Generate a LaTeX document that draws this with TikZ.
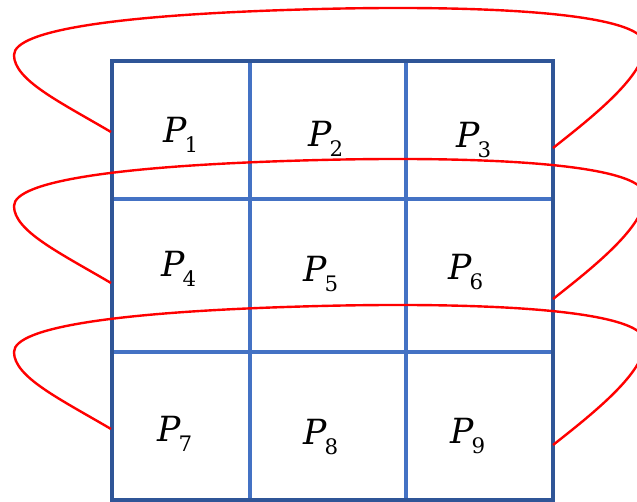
\documentclass[tikz,border=0pt]{standalone}
\usepackage{fontspec}
\newfontfamily\labfont{DejaVu Serif}
\definecolor{darkblue}{HTML}{2F5597}
\definecolor{midblue}{HTML}{4472C4}
\newcommand{\plab}[1]{{\labfont\fontsize{26}{28}\selectfont\itshape P}\kern-1.5pt\raisebox{-7pt}{\labfont\fontsize{16}{18}\selectfont #1}}
\begin{document}
\begin{tikzpicture}[x=0.75pt,y=-0.75pt,
  outer/.style={draw=darkblue,line width=3pt},
  inner/.style={draw=midblue,line width=2.4pt},
  loopline/.style={draw=red,line width=1.8pt},
  lbl/.style={inner sep=0pt,anchor=base west}]
\useasboundingbox (0,0) rectangle (637,502);
\clip (0,0) rectangle (637,502);
% grid
\draw[inner] (250,61) -- (250,500);
\draw[inner] (406,61) -- (406,500);
\draw[inner] (112,199) -- (553,199);
\draw[inner] (112,352) -- (553,352);
\draw[outer] (112,61) rectangle (553,500);
% labels
\node[lbl] (p1) at (163,143) {\plab{1}};
\node[lbl] (p2) at (308,147) {\plab{2}};
\node[lbl] (p3) at (456,148) {\plab{3}};
\node[lbl] (p4) at (161,277) {\plab{4}};
\node[lbl] (p5) at (303,282) {\plab{5}};
\node[lbl] (p6) at (448,280) {\plab{6}};
\node[lbl] (p7) at (157,442) {\plab{7}};
\node[lbl] (p8) at (303,445) {\plab{8}};
\node[lbl] (p9) at (450,444) {\plab{9}};
% red loops
\foreach \i/\dy in {1/0,2/151,3/297}{
  \coordinate (L\i) at (111,{132+\dy});
  \coordinate (R\i) at (553,{148+\dy});
  \draw[loopline] (L\i) .. controls (60,{102+\dy}) and (14,{80+\dy}) .. (14,{55+\dy})
    .. controls (14,{30+\dy}) and (120,{14+\dy}) .. (320,{9+\dy})
    .. controls (480,{5+\dy}) and (645,{12+\dy}) .. (645,{45+\dy})
    .. controls (645,{75+\dy}) and (595,{115+\dy}) .. (R\i);
}
\end{tikzpicture}
\end{document}
